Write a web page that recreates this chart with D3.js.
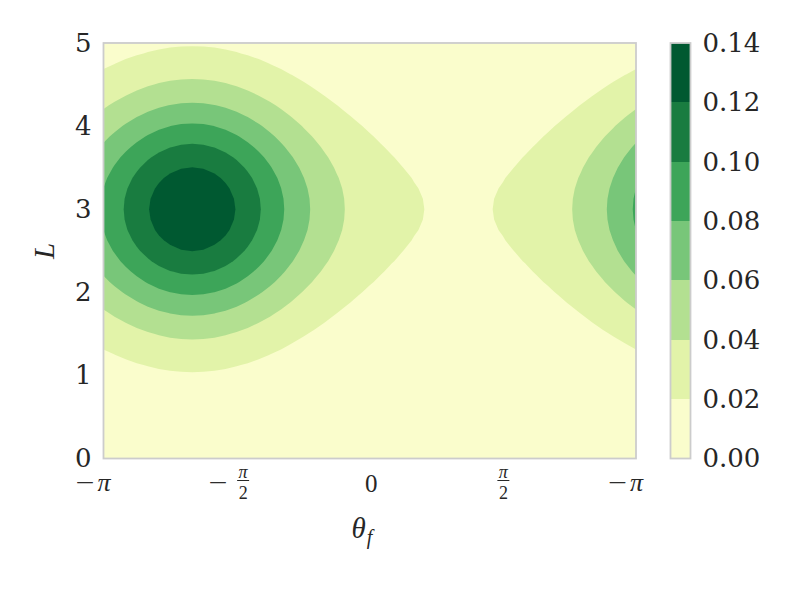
<!DOCTYPE html>
<html><head><meta charset="utf-8">
<script src="https://cdn.jsdelivr.net/npm/d3@7"></script>
<style>body{margin:0;background:#fff}</style>
</head><body><svg id="chart" width="800" height="600" xmlns="http://www.w3.org/2000/svg"></svg>
<script>
// Density profile along theta_f (49 samples from -pi to pi, step pi/24)
const thetaDensity = [0.2073,0.2311,0.2550,0.2779,0.2989,0.3167,0.3303,0.3388,0.3417,0.3388,0.3303,0.3167,0.2989,0.2779,0.2550,0.2311,0.2073,0.1843,0.1628,0.1432,0.1257,0.1103,0.0970,0.0857,0.0763,0.0684,0.0620,0.0569,0.0529,0.0499,0.0479,0.0466,0.0463,0.0466,0.0479,0.0499,0.0529,0.0569,0.0620,0.0684,0.0763,0.0857,0.0970,0.1103,0.1257,0.1432,0.1628,0.1843,0.2073];
// Density profile along L (41 samples from 0 to 5, step 0.125)
const lengthDensity = [0.0044,0.0064,0.0091,0.0127,0.0175,0.0238,0.0317,0.0417,0.0540,0.0688,0.0863,0.1065,0.1295,0.1550,0.1827,0.2119,0.2420,0.2721,0.3011,0.3282,0.3521,0.3719,0.3867,0.3958,0.3989,0.3958,0.3867,0.3719,0.3521,0.3282,0.3011,0.2721,0.2420,0.2119,0.1827,0.1550,0.1295,0.1065,0.0863,0.0688,0.0540];
const levels = [0, 0.02, 0.04, 0.06, 0.08, 0.10, 0.12, 0.14];
const levelColors = ["#fafdcc","#e2f3a9","#b3e091","#78c679","#3da559","#197c40","#005931"];
const thetaTicks = [-Math.PI, -Math.PI/2, 0, Math.PI/2, Math.PI];
const thetaTickLabels = ["−π", "−π/2", "0", "π/2", "−π"];
const lengthTicks = [0, 1, 2, 3, 4, 5];
const colorbarTicks = [0, 0.02, 0.04, 0.06, 0.08, 0.10, 0.12, 0.14];

const svg = d3.select("#chart");
const plot = {left: 103.5, right: 636, top: 43, bottom: 458.5};
const x = d3.scaleLinear().domain([-Math.PI, Math.PI]).range([plot.left, plot.right]);
const y = d3.scaleLinear().domain([0, 5]).range([plot.bottom, plot.top]);
const textColor = "#262626";
const spine = "#cccccc";

// grid
const nx = thetaDensity.length, ny = lengthDensity.length;
const dTheta = 2 * Math.PI / (nx - 1), dL = 5 / (ny - 1);
const values = new Array(nx * ny);
for (let j = 0; j < ny; j++) for (let i = 0; i < nx; i++) values[j * nx + i] = thetaDensity[i] * lengthDensity[j];

const contours = d3.contours().size([nx, ny]).thresholds(levels.slice(1, -1))(values);
const proj = d3.geoTransform({point: function(px, py) {
  this.stream.point(x(-Math.PI + (px - 0.5) * dTheta), y((py - 0.5) * dL));
}});
const path = d3.geoPath(proj);

svg.append("defs").append("clipPath").attr("id", "clip")
  .append("rect").attr("x", plot.left).attr("y", plot.top)
  .attr("width", plot.right - plot.left).attr("height", plot.bottom - plot.top);

const g = svg.append("g").attr("clip-path", "url(#clip)");
g.append("rect").attr("x", plot.left).attr("y", plot.top)
  .attr("width", plot.right - plot.left).attr("height", plot.bottom - plot.top)
  .attr("fill", levelColors[0]);
g.selectAll("path.c").data(contours).join("path").attr("class", "c")
  .attr("d", path)
  .attr("fill", d => levelColors[levels.findIndex(l => Math.abs(l - d.value) < 1e-9)]);

svg.append("rect").attr("x", plot.left).attr("y", plot.top)
  .attr("width", plot.right - plot.left).attr("height", plot.bottom - plot.top)
  .attr("fill", "none").attr("stroke", spine).attr("stroke-width", 1.8);

// y axis
const yAxis = d3.axisLeft(y).tickValues(lengthTicks).tickSize(0).tickPadding(12).tickFormat(d3.format("d"));
const ya = svg.append("g").attr("transform", `translate(${plot.left},0)`).call(yAxis);
ya.select(".domain").remove();
ya.selectAll("text").attr("font-family", "DejaVu Serif").attr("font-size", 26).attr("fill", textColor);

// x axis with math labels
const xAxis = d3.axisBottom(x).tickValues(thetaTicks).tickSize(0).tickFormat("");
const xa = svg.append("g").attr("transform", `translate(0,${plot.bottom})`).call(xAxis);
xa.select(".domain").remove();
const mathFont = "Liberation Serif";
xa.selectAll(".tick").each(function(d, k) {
  const lab = thetaTickLabels[k];
  const t = d3.select(this);
  const neg = lab.startsWith("−");
  const body = neg ? lab.slice(1) : lab;
  if (neg) {
    t.append("text").text("−").attr("x", -19).attr("y", 29)
      .attr("font-family", mathFont).attr("font-size", 16).attr("fill", textColor)
      .attr("stroke", textColor).attr("stroke-width", 0.35)
      .attr("textLength", 18).attr("lengthAdjust", "spacingAndGlyphs");
  }
  if (body.includes("/")) {
    const [num, den] = body.split("/");
    const cx = neg ? 6 : 0;
    t.append("text").text(num).attr("x", cx).attr("y", 19.5).attr("text-anchor", "middle")
      .attr("font-family", mathFont).attr("font-style", "italic").attr("font-size", 18).attr("fill", textColor);
    t.append("line").attr("x1", cx - 6).attr("x2", cx + 6).attr("y1", 22).attr("y2", 22)
      .attr("stroke", textColor).attr("stroke-width", 1);
    t.append("text").text(den).attr("x", cx).attr("y", 40.5).attr("text-anchor", "middle")
      .attr("font-family", mathFont).attr("font-size", 18).attr("fill", textColor);
  } else if (body === "π") {
    t.append("text").text("π").attr("x", 0).attr("y", 32)
      .attr("font-family", mathFont).attr("font-style", "italic").attr("font-size", 26).attr("fill", textColor);
  } else {
    t.append("text").text(body).attr("x", 1).attr("y", 33).attr("text-anchor", "middle")
      .attr("font-family", mathFont).attr("font-size", 25).attr("fill", textColor);
  }
});

// axis labels
const xl = svg.append("text").attr("x", 362).attr("y", 538)
  .attr("font-family", mathFont).attr("font-style", "italic").attr("font-size", 29).attr("fill", textColor)
  .attr("text-anchor", "middle");
xl.append("tspan").text("θ");
xl.append("tspan").text("f").attr("font-size", 20).attr("dy", 6).attr("dx", 1);
svg.append("text").attr("transform", "translate(54,251) rotate(-90)")
  .attr("text-anchor", "middle").attr("font-family", mathFont).attr("font-style", "italic")
  .attr("font-size", 29).attr("fill", textColor).text("L");

// colorbar
const cb = {left: 670.5, width: 20};
const cy = d3.scaleLinear().domain([levels[0], levels[levels.length - 1]]).range([plot.bottom, plot.top]);
const cbg = svg.append("g");
cbg.selectAll("rect.band").data(d3.range(levels.length - 1)).join("rect").attr("class", "band")
  .attr("x", cb.left).attr("width", cb.width)
  .attr("y", k => cy(levels[k + 1])).attr("height", k => cy(levels[k]) - cy(levels[k + 1]))
  .attr("fill", k => levelColors[k]).attr("shape-rendering", "crispEdges");
cbg.append("rect").attr("x", cb.left).attr("y", plot.top).attr("width", cb.width)
  .attr("height", plot.bottom - plot.top).attr("fill", "none").attr("stroke", spine).attr("stroke-width", 1.8);
const cAxis = d3.axisRight(cy).tickValues(colorbarTicks).tickSize(0).tickPadding(12).tickFormat(d3.format(".2f"));
const ca = svg.append("g").attr("transform", `translate(${cb.left + cb.width},0)`).call(cAxis);
ca.select(".domain").remove();
ca.selectAll("text").attr("font-family", "DejaVu Serif").attr("font-size", 26).attr("fill", textColor);
</script></body></html>
